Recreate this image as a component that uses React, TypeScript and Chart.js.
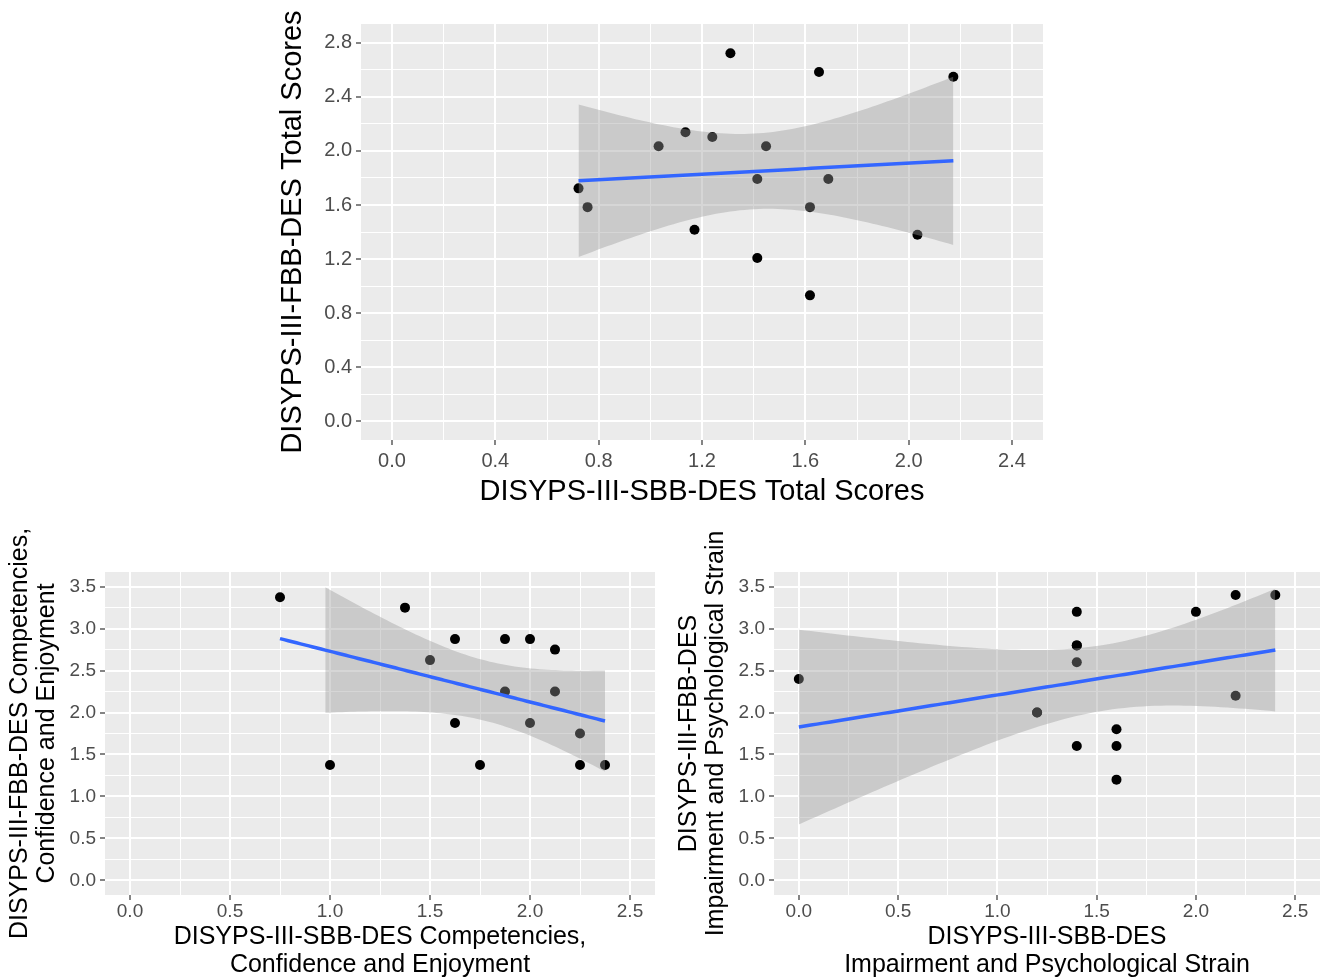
import React, { useEffect, useRef } from "react";
import { Chart, registerables } from "chart.js";
Chart.register(...registerables);

// ---------- Data ----------
// Top panel: total scores
const totalSBB = [0.722, 0.757, 1.032, 1.136, 1.171, 1.24, 1.31, 1.414, 1.414, 1.448, 1.618, 1.618, 1.653, 1.689, 2.034, 2.173];
const totalFBB = [1.723, 1.584, 2.035, 2.139, 1.416, 2.104, 2.723, 1.792, 1.208, 2.035, 1.584, 0.931, 2.584, 1.792, 1.379, 2.55];

// Bottom-left: competencies, confidence and enjoyment
const compSBB = [0.75, 1.0, 1.375, 1.5, 1.625, 1.625, 1.75, 1.875, 1.875, 2.0, 2.0, 2.125, 2.125, 2.25, 2.25, 2.375];
const compFBB = [3.375, 1.375, 3.25, 2.625, 2.875, 1.875, 1.375, 2.875, 2.25, 2.875, 1.875, 2.75, 2.25, 1.75, 1.375, 1.375];

// Bottom-right: impairment and psychological strain (includes overlapping points)
const impSBB = [0, 1.2, 1.2, 1.4, 1.4, 1.4, 1.4, 1.4, 1.6, 1.6, 1.6, 2.0, 2.2, 2.2, 2.4];
const impFBB = [2.4, 2.0, 2.0, 3.2, 2.8, 2.8, 2.6, 1.6, 1.8, 1.6, 1.2, 3.2, 3.4, 2.2, 3.4];

// Tick values / labels
const topXTicks = [0, 0.4, 0.8, 1.2, 1.6, 2.0, 2.4];
const topXLabels = ["0.0", "0.4", "0.8", "1.2", "1.6", "2.0", "2.4"];
const topYTicks = [0, 0.4, 0.8, 1.2, 1.6, 2.0, 2.4, 2.8];
const topYLabels = ["0.0", "0.4", "0.8", "1.2", "1.6", "2.0", "2.4", "2.8"];
const botXTicks = [0, 0.5, 1.0, 1.5, 2.0, 2.5];
const botXLabels = ["0.0", "0.5", "1.0", "1.5", "2.0", "2.5"];
const botYTicks = [0, 0.5, 1.0, 1.5, 2.0, 2.5, 3.0, 3.5];
const botYLabels = ["0.0", "0.5", "1.0", "1.5", "2.0", "2.5", "3.0", "3.5"];

// Student t 0.975 quantiles by degrees of freedom
const TQ: Record<number, number> = {
  8: 2.306, 9: 2.262, 10: 2.228, 11: 2.201, 12: 2.179, 13: 2.16, 14: 2.145,
  15: 2.131, 16: 2.12, 17: 2.11, 18: 2.101, 19: 2.093, 20: 2.086,
};

const FONT = "'Liberation Sans', Arial, sans-serif";

function fitStats(xs: number[], ys: number[]) {
  const n = xs.length;
  const mx = xs.reduce((a, b) => a + b, 0) / n;
  const my = ys.reduce((a, b) => a + b, 0) / n;
  let sxx = 0, sxy = 0, syy = 0;
  for (let i = 0; i < n; i++) {
    const dx = xs[i] - mx, dy = ys[i] - my;
    sxx += dx * dx; sxy += dx * dy; syy += dy * dy;
  }
  const b = sxy / sxx;
  const a = my - b * mx;
  const s = Math.sqrt((syy - b * sxy) / (n - 2));
  const t = TQ[n - 2] ?? 2.1;
  return {
    fit: (x: number) => a + b * x,
    half: (x: number) => t * s * Math.sqrt(1 / n + ((x - mx) * (x - mx)) / sxx),
  };
}

// Linear-model smooth (as geom_smooth(method = "lm")): 80 evaluation points,
// confidence band dropped where it leaves the y limits.
function smoothData(xs: number[], ys: number[], yLo: number, yHi: number) {
  const st = fitStats(xs, ys);
  const x0 = Math.min(...xs), x1 = Math.max(...xs);
  const line: { x: number; y: number }[] = [];
  const upper: { x: number; y: number }[] = [];
  const lower: { x: number; y: number }[] = [];
  for (let i = 0; i < 80; i++) {
    const x = x0 + ((x1 - x0) * i) / 79;
    const f = st.fit(x);
    const h = st.half(x);
    line.push({ x, y: f });
    if (f + h <= yHi && f - h >= yLo) {
      upper.push({ x, y: f + h });
      lower.push({ x, y: f - h });
    }
  }
  return { line, upper, lower };
}

type PanelCfg = {
  xs: number[]; ys: number[];
  xMin: number; xMax: number; yMin: number; yMax: number;
  xMajor: number[]; xLabels: string[]; yMajor: number[]; yLabels: string[];
  yLimLo: number; yLimHi: number;
  xTitle: string | string[]; yTitle: string | string[];
  titleSize: number; tickSize: number;
  yWidth: number; xHeight: number;
  padding: { left: number; top: number; right: number; bottom: number };
  yTitlePad: number; xTitlePadBottom: number; xTickPad: number;
};

function withMinors(major: number[], lo: number, hi: number) {
  const step = major[1] - major[0];
  const vals: number[] = [];
  for (let i = 0; i < major.length; i++) {
    vals.push(major[i]);
    const mid = major[i] + step / 2;
    if (mid > lo && mid < hi) vals.push(mid);
  }
  const before = major[0] - step / 2;
  if (before > lo) vals.unshift(before);
  return vals;
}

const panelBg = {
  id: "panelBg",
  beforeDraw(chart: any) {
    const { ctx, chartArea } = chart;
    ctx.save();
    ctx.fillStyle = "#EBEBEB";
    ctx.fillRect(chartArea.left, chartArea.top, chartArea.right - chartArea.left, chartArea.bottom - chartArea.top);
    ctx.restore();
  },
};

function makeConfig(p: PanelCfg): any {
  const sm = smoothData(p.xs, p.ys, p.yLimLo, p.yLimHi);
  const pts = p.xs.map((x, i) => ({ x, y: p.ys[i] }));
  const isMaj = (arr: number[], v: number) => arr.some((m) => Math.abs(m - v) < 1e-6);
  const xAll = withMinors(p.xMajor, p.xMin, p.xMax);
  const yAll = withMinors(p.yMajor, p.yMin, p.yMax);
  const labelOf = (arr: number[], labels: string[], v: number) => {
    const idx = arr.findIndex((m) => Math.abs(m - v) < 1e-6);
    return idx >= 0 ? labels[idx] : "";
  };
  const axis = (major: number[], labels: string[], all: number[], min: number, max: number, isX: boolean) => ({
    type: "linear",
    min, max,
    afterBuildTicks: (s: any) => { s.ticks = all.map((v) => ({ value: v })); },
    afterFit: (s: any) => {
      if (isX) { s.height = p.xHeight; s.paddingLeft = 0; s.paddingRight = 0; }
      else { s.width = p.yWidth; s.paddingTop = 0; s.paddingBottom = 0; }
    },
    border: { display: false },
    grid: {
      color: "#FFFFFF",
      lineWidth: (c: any) => (c.tick && isMaj(major, c.tick.value) ? 2 : 1),
      drawTicks: true,
      tickLength: 5,
      tickWidth: 1.2,
      tickColor: (c: any) => (c.tick && isMaj(major, c.tick.value) ? "#333333" : "rgba(0,0,0,0)"),
    },
    ticks: {
      autoSkip: false,
      maxRotation: 0,
      minRotation: 0,
      padding: isX ? p.xTickPad : 4,
      color: "#4D4D4D",
      font: { family: FONT, size: p.tickSize, lineHeight: 1.2 },
      callback: (v: number) => labelOf(major, labels, v),
    },
    title: {
      display: true,
      text: isX ? p.xTitle : p.yTitle,
      color: "#000000",
      font: { family: FONT, size: p.titleSize, lineHeight: 1.1 },
      padding: isX ? { top: 0, bottom: p.xTitlePadBottom } : { top: p.yTitlePad, bottom: 0 },
    },
  });
  return {
    type: "scatter",
    data: {
      datasets: [
        { type: "line", data: sm.line, borderColor: "#3366FF", borderWidth: 3.5, pointRadius: 0, fill: false, tension: 0, order: 0 },
        { type: "line", data: sm.upper, borderColor: "rgba(0,0,0,0)", borderWidth: 0, pointRadius: 0, fill: "+1", backgroundColor: "rgba(153,153,153,0.4)", tension: 0, order: 1 },
        { type: "line", data: sm.lower, borderColor: "rgba(0,0,0,0)", borderWidth: 0, pointRadius: 0, fill: false, tension: 0, order: 1 },
        { type: "scatter", data: pts, pointRadius: 5, pointBackgroundColor: "#000000", backgroundColor: "#000000", pointBorderWidth: 0, borderWidth: 0, order: 2 },
      ],
    },
    options: {
      responsive: false,
      animation: false,
      events: [],
      layout: { padding: p.padding },
      plugins: { legend: { display: false }, tooltip: { enabled: false } },
      scales: {
        x: axis(p.xMajor, p.xLabels, xAll, p.xMin, p.xMax, true),
        y: axis(p.yMajor, p.yLabels, yAll, p.yMin, p.yMax, false),
      },
    },
    plugins: [panelBg],
  };
}

const topPanel: PanelCfg = {
  xs: totalSBB, ys: totalFBB,
  xMin: -0.12, xMax: 2.52, yMin: -0.14, yMax: 2.94,
  xMajor: topXTicks, xLabels: topXLabels, yMajor: topYTicks, yLabels: topYLabels,
  yLimLo: 0, yLimHi: 2.8,
  xTitle: "DISYPS-III-SBB-DES Total Scores",
  yTitle: "DISYPS-III-FBB-DES Total Scores",
  titleSize: 29, tickSize: 20,
  yWidth: 106, xHeight: 75,
  padding: { left: 0, top: 24, right: 12, bottom: 0 },
  yTitlePad: 22, xTitlePadBottom: 7, xTickPad: 4,
};

const leftPanel: PanelCfg = {
  xs: compSBB, ys: compFBB,
  xMin: -0.125, xMax: 2.625, yMin: -0.175, yMax: 3.675,
  xMajor: botXTicks, xLabels: botXLabels, yMajor: botYTicks, yLabels: botYLabels,
  yLimLo: 0, yLimHi: 3.5,
  xTitle: ["DISYPS-III-SBB-DES Competencies,", "Confidence and Enjoyment"],
  yTitle: ["DISYPS-III-FBB-DES Competencies,", "Confidence and Enjoyment"],
  titleSize: 25, tickSize: 19,
  yWidth: 105, xHeight: 84,
  padding: { left: 0, top: 57, right: 10, bottom: 0 },
  yTitlePad: 6.2, xTitlePadBottom: 0.3, xTickPad: 0.6,
};

const rightPanel: PanelCfg = {
  xs: impSBB, ys: impFBB,
  xMin: -0.125, xMax: 2.625, yMin: -0.175, yMax: 3.675,
  xMajor: botXTicks, xLabels: botXLabels, yMajor: botYTicks, yLabels: botYLabels,
  yLimLo: 0, yLimHi: 3.5,
  xTitle: ["DISYPS-III-SBB-DES", "Impairment and Psychological Strain"],
  yTitle: ["DISYPS-III-FBB-DES", "Impairment and Psychological Strain"],
  titleSize: 25, tickSize: 19,
  yWidth: 109, xHeight: 84,
  padding: { left: 0, top: 57, right: 3, bottom: 0 },
  yTitlePad: 10.2, xTitlePadBottom: 0.3, xTickPad: 0.6,
};

export default function App() {
  const topRef = useRef<HTMLCanvasElement>(null);
  const leftRef = useRef<HTMLCanvasElement>(null);
  const rightRef = useRef<HTMLCanvasElement>(null);

  useEffect(() => {
    const charts: Chart[] = [];
    if (topRef.current) charts.push(new Chart(topRef.current, makeConfig(topPanel)));
    if (leftRef.current) charts.push(new Chart(leftRef.current, makeConfig(leftPanel)));
    if (rightRef.current) charts.push(new Chart(rightRef.current, makeConfig(rightPanel)));
    return () => charts.forEach((c) => c.destroy());
  }, []);

  return (
    <div style={{ position: "absolute", left: 0, top: 0, width: 1325, height: 979, background: "#FFFFFF", overflow: "hidden" }}>
      <canvas ref={topRef} width={800} height={515} style={{ position: "absolute", left: 255, top: 0 }} />
      <canvas ref={leftRef} width={665} height={464} style={{ position: "absolute", left: 0, top: 515 }} />
      <canvas ref={rightRef} width={660} height={464} style={{ position: "absolute", left: 665, top: 515 }} />
    </div>
  );
}
